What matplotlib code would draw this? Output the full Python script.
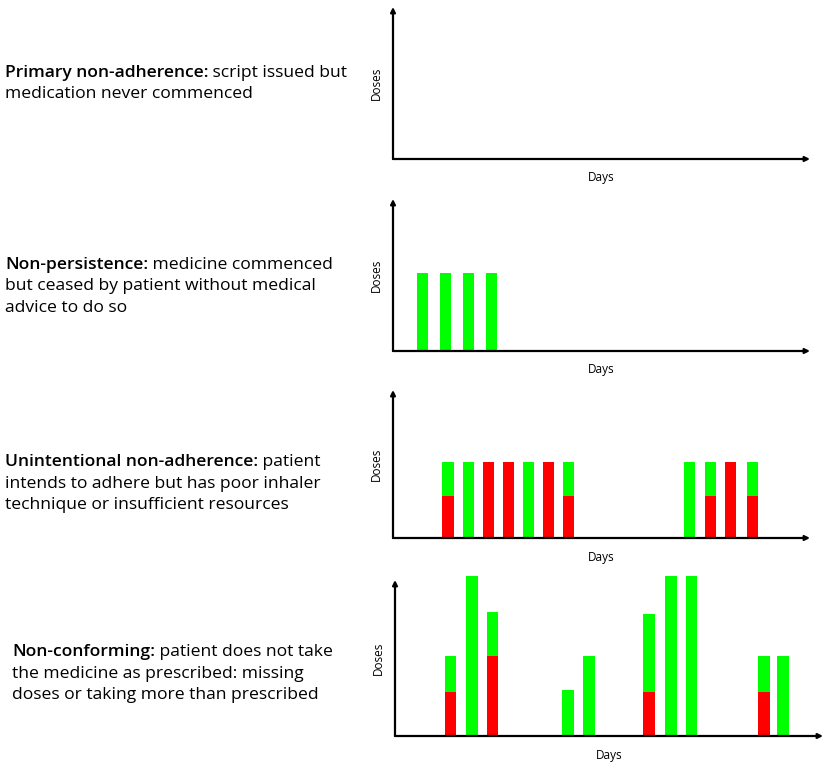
import matplotlib
matplotlib.use("Agg")
import matplotlib.pyplot as plt

# ---------------- data ----------------
titles = ["Primary non-adherence:", "Non-persistence:",
          "Unintentional non-adherence:", "Non-conforming:"]
first_rest = [" script issued but", " medicine commenced", " patient",
              " patient does not take"]
more_lines = [["medication never commenced"],
              ["but ceased by patient without medical", "advice to do so"],
              ["intends to adhere but has poor inhaler", "technique or insufficient resources"],
              ["the medicine as prescribed: missing", "doses or taking more than prescribed"]]

days_p2 = [1.44, 2.57, 3.69, 4.82]
total_p2 = [2.0, 2.0, 2.0, 2.0]
red_p2 = [0, 0, 0, 0]

days_p3 = [2.69, 3.69, 4.67, 5.65, 6.63, 7.61, 8.59, 14.5, 15.53, 16.51, 17.59]
total_p3 = [2.0, 2.0, 2.0, 2.0, 2.0, 2.0, 2.0, 2.0, 2.0, 2.0, 2.0]
red_p3 = [1.1, 0, 2.0, 2.0, 0, 2.0, 1.1, 0, 1.1, 2.0, 1.1]

days_p4 = [2.65, 3.67, 4.65, 8.25, 9.25, 12.1, 13.15, 14.13, 17.6, 18.5]
total_p4 = [2.0, 4.0, 3.1, 1.15, 2.0, 3.05, 4.0, 4.0, 2.0, 2.0]
red_p4 = [1.1, 0, 2.0, 0, 0, 1.1, 0, 0, 1.1, 0]

panels = [([], [], []), (days_p2, total_p2, red_p2),
          (days_p3, total_p3, red_p3), (days_p4, total_p4, red_p4)]

GREEN = "#00FF00"
RED = "#FF0000"
FONT = ["Open Sans", "DejaVu Sans"]
FS = 12.6

W, H = 829, 767
fig = plt.figure(figsize=(W / 100, H / 100), dpi=100)

# axes boxes in pixels: (x_left, x_right, y_top, y_bottom)
boxes = [(393, 810, 7, 159), (393, 810, 199, 351),
         (393, 810, 390, 538), (395, 823, 580, 736)]
# text: (x, first baseline y)
text_pos = [(5, 77), (5, 269), (5, 466), (12, 656)]
line_h = 21.5

for i, ((x0, x1, yt, yb), (d, tot, red)) in enumerate(zip(boxes, panels)):
    ax = fig.add_axes([x0 / W, 1 - yb / H, (x1 - x0) / W, (yb - yt) / H])
    ax.set_xlim(0, 20.4)
    ax.set_ylim(0, 3.9)
    for s in ax.spines.values():
        s.set_visible(False)
    ax.set_xticks([])
    ax.set_yticks([])
    ax.patch.set_alpha(0)
    if d:
        green = [t - r for t, r in zip(tot, red)]
        ax.bar(d, red, width=0.55, color=RED, clip_on=False, zorder=2)
        ax.bar(d, green, bottom=red, width=0.55, color=GREEN, clip_on=False, zorder=2)
    arrow = dict(arrowstyle="-|>", lw=1.6, color="black", mutation_scale=7,
                 shrinkA=0, shrinkB=0)
    ax.annotate("", xy=(0, 1), xytext=(0, 0), xycoords="axes fraction",
                arrowprops=arrow, zorder=3)
    ax.annotate("", xy=(1, 0), xytext=(0, 0), xycoords="axes fraction",
                arrowprops=arrow, zorder=3)
    ax.set_xlabel("Days", fontsize=8.5, family=FONT, labelpad=9)
    ax.set_ylabel("Doses", fontsize=8.5, family=FONT, labelpad=7)

    tx, ty = text_pos[i]
    bold = fig.text(tx / W, 1 - ty / H, titles[i], fontsize=FS, family=FONT,
                    weight="semibold", va="baseline", ha="left")
    fig.canvas.draw()
    bb = bold.get_window_extent()
    fig.text(bb.x1 / W, 1 - ty / H, first_rest[i], fontsize=FS, family=FONT,
             va="baseline", ha="left")
    for k, line in enumerate(more_lines[i]):
        fig.text(tx / W, 1 - (ty + line_h * (k + 1)) / H, line, fontsize=FS,
                 family=FONT, va="baseline", ha="left")

fig.savefig("out.png", dpi=100)
